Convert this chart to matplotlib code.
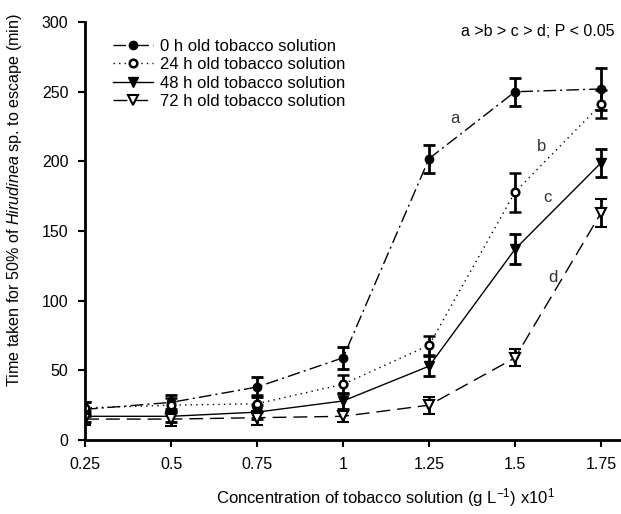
import matplotlib.pyplot as plt

plt.rcParams['font.family'] = ['Liberation Sans', 'DejaVu Sans']
plt.rcParams['mathtext.fontset'] = 'custom'
plt.rcParams['mathtext.rm'] = 'Liberation Sans'
plt.rcParams['mathtext.it'] = 'Liberation Sans:italic'

conc = [0.25, 0.5, 0.75, 1.0, 1.25, 1.5, 1.75]
tick_labels = ['0.25', '0.5', '0.75', '1', '1.25', '1.5', '1.75']
series_names = ['0 h old tobacco solution', '24 h old tobacco solution',
                '48 h old tobacco solution', '72 h old tobacco solution']

h0 = [22, 27, 38, 59, 202, 250, 252]
h0_err = [5, 5, 7, 8, 10, 10, 15]
h24 = [23, 25, 26, 40, 68, 178, 241]
h24_err = [4, 5, 6, 7, 7, 14, 10]
h48 = [17, 17, 20, 28, 53, 137, 199]
h48_err = [4, 4, 5, 6, 7, 11, 10]
h72 = [15, 15, 16, 17, 25, 59, 163]
h72_err = [4, 5, 5, 4, 6, 6, 10]

fig = plt.figure(figsize=(6.21, 5.14), dpi=100)
ax = fig.add_axes([0.137, 0.144, 0.863, 0.813])

common = dict(color='black', lw=1.0, ecolor='black', elinewidth=2,
              capsize=4.5, capthick=2)
c0 = ax.errorbar(conc, h0, yerr=h0_err, marker='o', mfc='black', ms=6,
                 dashes=(9, 3, 1.5, 3), **common)
c1 = ax.errorbar(conc, h24, yerr=h24_err, marker='o', mfc='white', mew=1.8, ms=5.5,
                 dashes=(1, 3), **common)
c2 = ax.errorbar(conc, h48, yerr=h48_err, marker='v', mfc='black', ms=7,
                 ls='-', **common)
c3 = ax.errorbar(conc, h72, yerr=h72_err, marker='v', mfc='white', mew=1.5, ms=7,
                 dashes=(10, 5), **common)

# group letters
for txt, x, y in [('a', 1.326, 231), ('b', 1.578, 211), ('c', 1.593, 174), ('d', 1.61, 117)]:
    ax.text(x, y, txt, fontsize=12, ha='center', va='center', color='#333333')
ax.text(1.79, 293, 'a >b > c > d; P < 0.05', fontsize=11.5, ha='right', va='center')

ax.set_xlim(0.25, 1.808)
ax.set_ylim(0, 300)
ax.set_xticks(conc)
ax.set_xticklabels(tick_labels)
ax.set_yticks(range(0, 301, 50))
ax.tick_params(direction='out', length=5, width=1.5, labelsize=11.5, pad=7)
for s in ['top', 'right']:
    ax.spines[s].set_visible(False)
for s in ['left', 'bottom']:
    ax.spines[s].set_linewidth(2)

ax.set_xlabel('Concentration of tobacco solution (g L$^{-1}$) x10$^{1}$', fontsize=12)
ax.xaxis.set_label_coords(0.56, -0.11)
ax.set_ylabel('Time taken for 50% of $\\it{Hirudinea}$ sp. to escape (min)', fontsize=11.6)
ax.yaxis.set_label_coords(-0.114, 0.574)

ax.legend([c[0] for c in (c0, c1, c2, c3)], series_names,
          loc='upper left', bbox_to_anchor=(113 / 621, 1 - 39 / 514),
          bbox_transform=fig.transFigure, frameon=False, borderpad=0,
          borderaxespad=0, fontsize=12, handlelength=2.4, labelspacing=0.2,
          handletextpad=0.4)

fig.savefig('out.png', dpi=100)
